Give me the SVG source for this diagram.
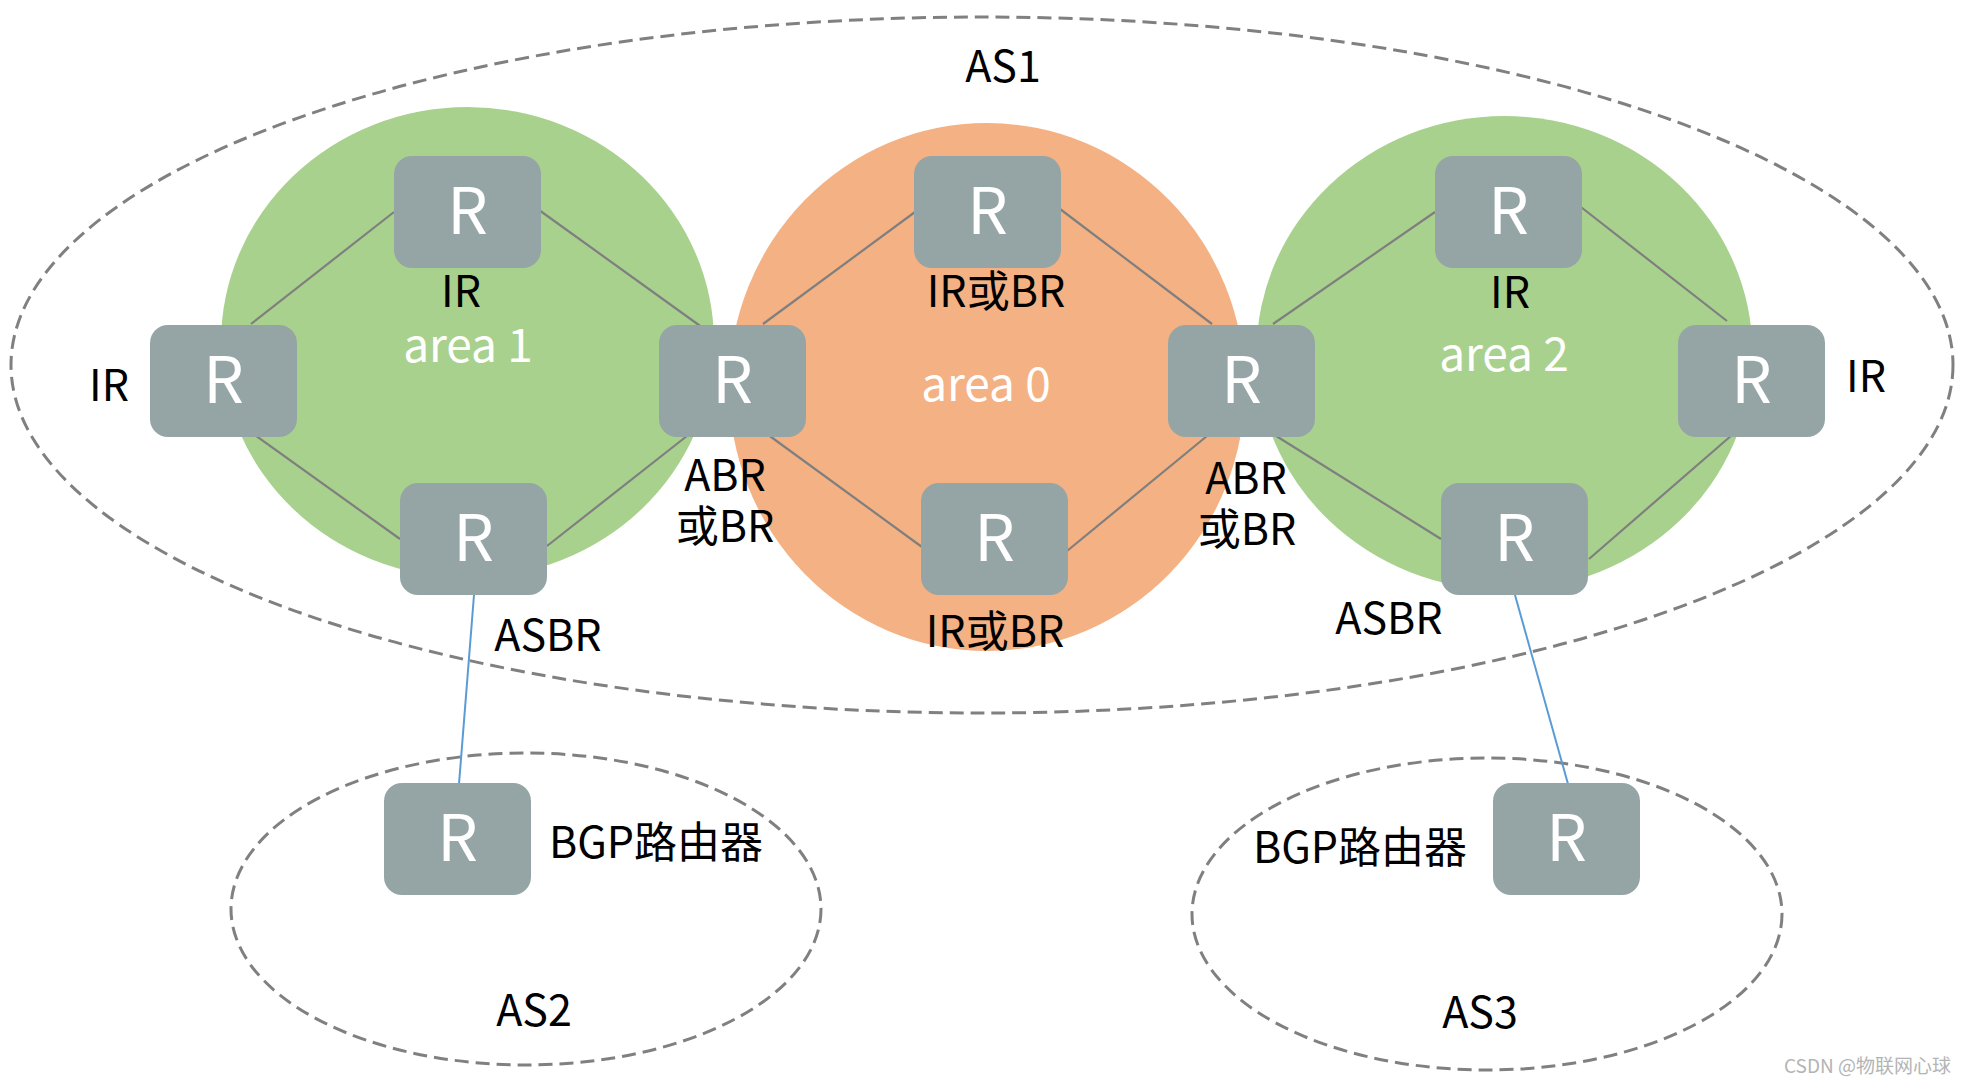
<svg xmlns="http://www.w3.org/2000/svg" width="1968" height="1084" viewBox="0 0 1968 1084">
<style>
.as{fill:none;stroke:#808080;stroke-width:3;stroke-dasharray:14 7}
.rt rect{fill:#95a5a6}
.rt text{fill:#ffffff;font-size:64px;text-anchor:middle}
text{font-family:"Noto Sans CJK SC","Noto Sans",sans-serif}
.lbl{fill:#000000;font-size:43px;text-anchor:middle}
.wl{fill:#ffffff;font-size:46px;text-anchor:middle}
.ln{stroke:#7f7f7f;stroke-width:2.2}
.bl{stroke:#5b9bd5;stroke-width:2}
</style>
<rect width="1968" height="1084" fill="#ffffff"/>
<g id="as-areas">
<ellipse class="as" cx="982" cy="365" rx="971" ry="348"/>
<ellipse class="as" cx="526" cy="909" rx="295" ry="156"/>
<ellipse class="as" cx="1487" cy="914" rx="295" ry="156"/>
</g>
<g id="areas">
<ellipse id="area1" cx="467.5" cy="342.5" rx="246.5" ry="235.5" fill="#a9d18e"/>
<ellipse id="area0" cx="987" cy="387" rx="258" ry="264" fill="#f4b183"/>
<ellipse id="area2" cx="1504.5" cy="353" rx="248" ry="237" fill="#a9d18e"/>
</g>
<g id="connectors">
<line class="ln" x1="251" y1="324" x2="394" y2="212"/>
<line class="ln" x1="539" y1="210" x2="703" y2="328"/>
<line class="ln" x1="252" y1="433" x2="400" y2="539"/>
<line class="ln" x1="547" y1="546" x2="692" y2="432"/>
<line class="ln" x1="763" y1="324" x2="915" y2="212"/>
<line class="ln" x1="767" y1="434" x2="922" y2="547"/>
<line class="ln" x1="1060" y1="209" x2="1212" y2="324"/>
<line class="ln" x1="1067" y1="551" x2="1207" y2="436"/>
<line class="ln" x1="1273" y1="324" x2="1435" y2="212"/>
<line class="ln" x1="1577" y1="204" x2="1727" y2="321"/>
<line class="ln" x1="1273" y1="434" x2="1441" y2="539"/>
<line class="ln" x1="1589" y1="559" x2="1732" y2="435"/>
<line class="bl" x1="474" y1="595" x2="459" y2="784"/>
<line class="bl" x1="1515" y1="595" x2="1568" y2="784"/>
</g>
<g id="r-a1-left" class="rt"><rect x="150" y="325" width="147" height="112" rx="18"/><text x="223.5" y="403">R</text></g>
<g id="r-a1-top" class="rt"><rect x="394" y="156" width="147" height="112" rx="18"/><text x="467.5" y="234">R</text></g>
<g id="r-a1-right" class="rt"><rect x="659" y="325" width="147" height="112" rx="18"/><text x="732.5" y="403">R</text></g>
<g id="r-a1-bottom" class="rt"><rect x="400" y="483" width="147" height="112" rx="18"/><text x="473.5" y="561">R</text></g>
<g id="r-a0-top" class="rt"><rect x="914" y="156" width="147" height="112" rx="18"/><text x="987.5" y="234">R</text></g>
<g id="r-a0-bottom" class="rt"><rect x="921" y="483" width="147" height="112" rx="18"/><text x="994.5" y="561">R</text></g>
<g id="r-a2-left" class="rt"><rect x="1168" y="325" width="147" height="112" rx="18"/><text x="1241.5" y="403">R</text></g>
<g id="r-a2-top" class="rt"><rect x="1435" y="156" width="147" height="112" rx="18"/><text x="1508.5" y="234">R</text></g>
<g id="r-a2-right" class="rt"><rect x="1678" y="325" width="147" height="112" rx="18"/><text x="1751.5" y="403">R</text></g>
<g id="r-a2-bottom" class="rt"><rect x="1441" y="483" width="147" height="112" rx="18"/><text x="1514.5" y="561">R</text></g>
<g id="r-as2" class="rt"><rect x="384" y="783" width="147" height="112" rx="18"/><text x="457.5" y="861">R</text></g>
<g id="r-as3" class="rt"><rect x="1493" y="783" width="147" height="112" rx="18"/><text x="1566.5" y="861">R</text></g>
<g id="labels">
<text class="lbl" x="1003" y="82">AS1</text>
<text class="lbl" x="461" y="307">IR</text>
<text class="wl" x="468" y="362">area 1</text>
<text class="lbl" x="109" y="401">IR</text>
<text class="lbl" x="725" y="491">ABR</text>
<text class="lbl" x="725" y="542">或BR</text>
<text class="lbl" x="548" y="651">ASBR</text>
<text class="lbl" x="996" y="307">IR或BR</text>
<text class="wl" x="986" y="401">area 0</text>
<text class="lbl" x="995" y="647">IR或BR</text>
<text class="lbl" x="1510" y="308">IR</text>
<text class="wl" x="1504" y="371">area 2</text>
<text class="lbl" x="1866" y="392">IR</text>
<text class="lbl" x="1246" y="494">ABR</text>
<text class="lbl" x="1247" y="545">或BR</text>
<text class="lbl" x="1389" y="634">ASBR</text>
<text class="lbl" x="656" y="858">BGP路由器</text>
<text class="lbl" x="1360" y="863">BGP路由器</text>
<text class="lbl" x="534" y="1026">AS2</text>
<text class="lbl" x="1480" y="1028">AS3</text>
<text x="1951" y="1073" fill="#b4b4b4" font-size="19" text-anchor="end" font-family="'Liberation Sans','Noto Sans CJK SC',sans-serif">CSDN @物联网心球</text>
</g>
</svg>
